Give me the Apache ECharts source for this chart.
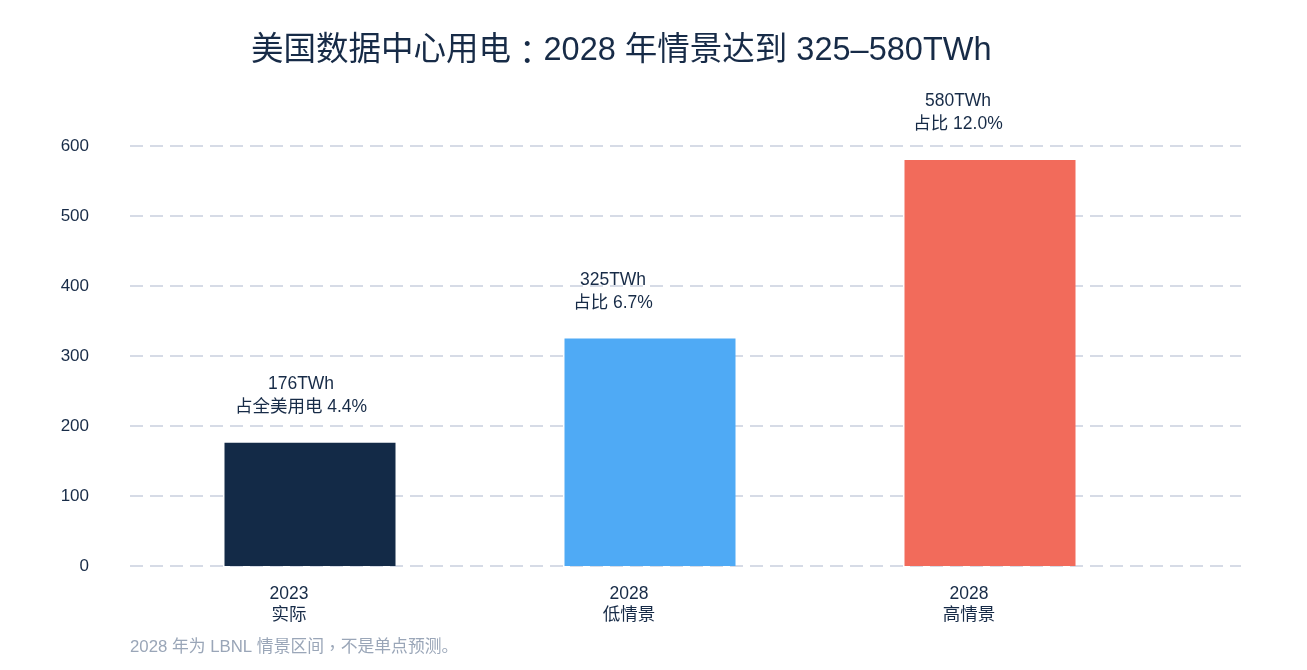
<!DOCTYPE html>
<html>
<head>
<meta charset="utf-8">
<script src="https://cdn.jsdelivr.net/npm/echarts@6/dist/echarts.min.js"></script>
<style>
  html, body { margin: 0; padding: 0; background: #fff; }
  #main { width: 1307px; height: 670px; }
</style>
</head>
<body>
<div id="main"></div>
<script>
// 数据
var categories = ['2023\n实际', '2028\n低情景', '2028\n高情景'];
var usage = [176, 325, 580];
var shareText = ['占全美用电 4.4%', '占比 6.7%', '占比 12.0%'];
var yTicks = [0, 100, 200, 300, 400, 500, 600];

var barColors = ['#132a47', '#4faaf5', '#f26b5b'];
var labelShift = [-9, -37, -32];
var fontFam = '"Liberation Sans", Arial, "Noto Sans CJK SC", sans-serif';
var puncFam = '"Noto Sans CJK TC", sans-serif';  // 居中标点
var ink = '#172b47';

var chart = echarts.init(document.getElementById('main'));

var option = {
    backgroundColor: '#fff',
    animation: false,
    textStyle: { fontFamily: fontFam },
    title: {
        text: '美国数据中心用电{p|：}2028 年情景达到 325–580TWh',
        left: 246,
        top: 30,
        textStyle: {
            fontSize: 32.5, fontWeight: 'normal', color: ink, fontFamily: fontFam,
            rich: { p: { fontSize: 32.5, color: ink, fontFamily: puncFam } }
        }
    },
    graphic: [{
        type: 'text',
        left: 130,
        top: 639,
        style: {
            text: '2028 年为 LBNL 情景区间{p|，}不是单点预测。',
            fontSize: 16.8,
            fill: '#9aa6b8',
            fontFamily: fontFam,
            rich: { p: { fontSize: 16.8, fill: '#9aa6b8', fontFamily: puncFam } }
        }
    }],
    grid: [
        { left: 130, right: 66, top: 146, bottom: 104 },   // 网格线
        { left: 140, width: 1020, top: 146, bottom: 104 }  // 柱子
    ],
    xAxis: [
        { type: 'value', gridIndex: 0, show: false, min: 0, max: 1 },
        {
            type: 'category',
            gridIndex: 1,
            data: categories,
            axisLine: { show: false },
            axisTick: { show: false },
            axisLabel: {
                margin: 18,
                fontSize: 17.5,
                lineHeight: 21,
                color: ink,
                padding: [0, 42, 0, 0]
            }
        }
    ],
    yAxis: [
        {
            type: 'value',
            gridIndex: 0,
            min: yTicks[0],
            max: yTicks[yTicks.length - 1],
            interval: 100,
            axisLine: { show: false },
            axisTick: { show: false },
            axisLabel: { margin: 41, fontSize: 17, color: ink },
            splitLine: {
                lineStyle: { color: '#d6dbe6', width: 2, type: [13, 7] }
            }
        },
        { type: 'value', gridIndex: 1, min: 0, max: 600, show: false }
    ],
    series: [{
        type: 'bar',
        xAxisIndex: 1,
        yAxisIndex: 1,
        barWidth: 171,
        data: usage.map(function (v, i) {
            return {
                value: v,
                itemStyle: { color: barColors[i] },
                label: { offset: [labelShift[i], 0] }
            };
        }),
        label: {
            show: true,
            position: 'top',
            distance: 24,
            fontSize: 17.5,
            lineHeight: 23,
            color: ink,
            formatter: function (p) {
                return p.value + 'TWh\n' + shareText[p.dataIndex];
            }
        }
    }]
};

chart.setOption(option);
</script>
</body>
</html>
